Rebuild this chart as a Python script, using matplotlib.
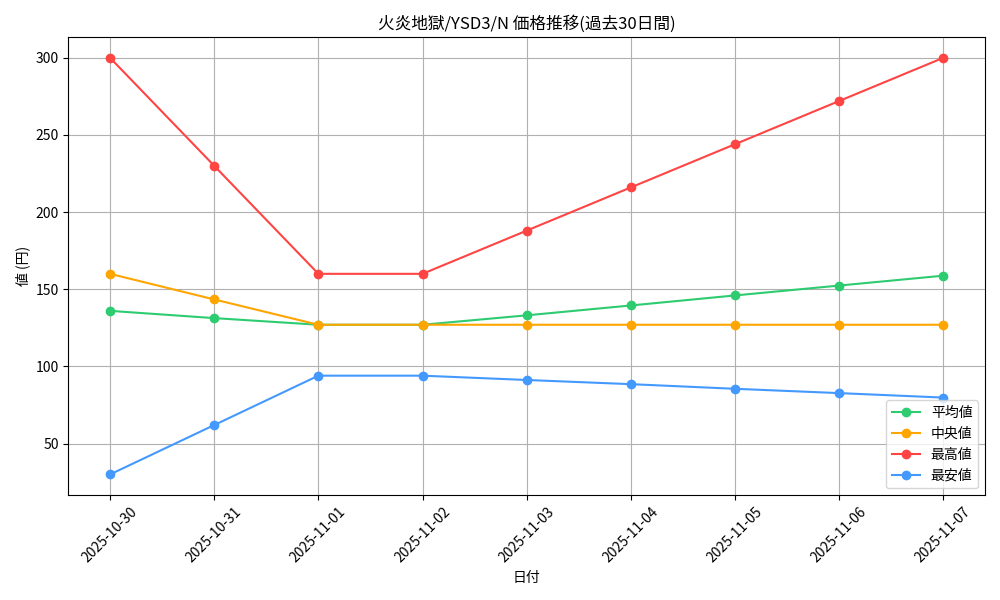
import matplotlib
matplotlib.use("Agg")
import matplotlib.pyplot as plt

plt.rcParams["font.family"] = ["Noto Sans CJK JP", "DejaVu Sans"]

DATES = ["2025-10-30", "2025-10-31", "2025-11-01", "2025-11-02", "2025-11-03",
         "2025-11-04", "2025-11-05", "2025-11-06", "2025-11-07"]
AVG = [136, 131.3, 127, 127, 133.1, 139.5, 146.0, 152.4, 158.8]
MEDIAN = [160, 143.4, 127, 127, 127, 127, 127, 127, 127]
HIGH = [300, 230, 160, 160, 188, 216, 244, 272, 300]
LOW = [30, 62, 94, 94, 91.2, 88.5, 85.5, 82.7, 79.8]

SERIES = [
    ("平均値", AVG, "#2ecc71"),
    ("中央値", MEDIAN, "#ffa500"),
    ("最高値", HIGH, "#ff4444"),
    ("最安値", LOW, "#4499ff"),
]

fig, ax = plt.subplots(figsize=(10, 6), dpi=100)
for nombre, valores, color in SERIES:
    ax.plot(DATES, valores, marker="o", color=color, label=nombre, linewidth=1.5, markersize=6)

ax.set_title("火炎地獄/YSD3/N 価格推移(過去30日間)", fontsize=12)
ax.set_xlabel("日付")
ax.set_ylabel("値 (円)")
ax.grid(True, color="#b0b0b0")
ax.tick_params(axis="x", rotation=45)
ax.legend(loc="lower right")
fig.tight_layout()
fig.savefig("out.png", dpi=100)
